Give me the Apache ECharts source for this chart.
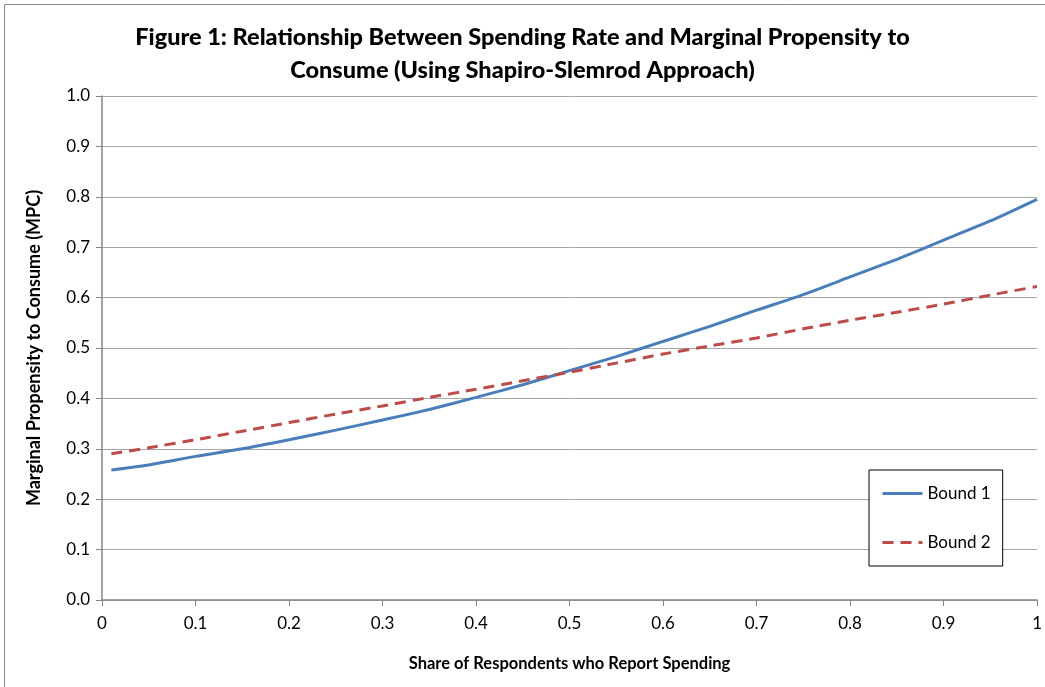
<!DOCTYPE html>
<html>
<head>
<meta charset="utf-8">
<script src="https://cdn.jsdelivr.net/npm/echarts@6/dist/echarts.min.js"></script>
<style>
    html, body { margin: 0; padding: 0; background: #fff; }
    #chart { width: 1045px; height: 687px; }
</style>
</head>
<body>
<div id="chart"></div>
<script>
    // share of respondents (x) and the two MPC bounds
    var shareX = [0.01, 0.05, 0.1, 0.15, 0.2, 0.25, 0.3, 0.35, 0.4, 0.45, 0.5,
                  0.55, 0.6, 0.65, 0.7, 0.75, 0.8, 0.85, 0.9, 0.95, 1.0];
    var bound1 = [0.258, 0.268, 0.285, 0.300, 0.318, 0.337, 0.357, 0.378, 0.402, 0.427, 0.455,
                  0.483, 0.513, 0.543, 0.575, 0.606, 0.641, 0.676, 0.714, 0.752, 0.795];
    var bound2 = [0.290, 0.302, 0.318, 0.335, 0.352, 0.369, 0.385, 0.402, 0.418, 0.435, 0.452,
                  0.470, 0.488, 0.504, 0.520, 0.538, 0.555, 0.571, 0.587, 0.605, 0.622];
    var seriesNames = ['Bound 1', 'Bound 2'];

    var font = 'Lato, "Open Sans", sans-serif';

    function pairs(ys) {
        return shareX.map(function (x, i) { return [x, ys[i]]; });
    }

    var chart = echarts.init(document.getElementById('chart'));
    chart.setOption({
        animation: false,
        graphic: [{
            type: 'rect',
            shape: { x: 4.5, y: 4.5, width: 1045, height: 690 },
            style: { fill: 'none', stroke: '#888', lineWidth: 1 },
            silent: true
        }],
        title: {
            text: 'Figure 1: Relationship Between Spending Rate and Marginal Propensity to\nConsume (Using Shapiro-Slemrod Approach)',
            left: 'center',
            top: 16,
            textStyle: {
                fontFamily: font,
                fontWeight: 900,
                fontSize: 23.5,
                lineHeight: 33,
                color: '#000'
            }
        },
        legend: {
            orient: 'vertical',
            left: 869,
            top: 470,
            width: 134,
            padding: [15, 12, 15, 12],
            itemGap: 32,
            itemWidth: 40,
            itemHeight: 20,
            borderColor: '#000',
            borderWidth: 1,
            backgroundColor: '#fff',
            data: seriesNames,
            itemStyle: { opacity: 0 },
            lineStyle: { width: 3 },
            textStyle: { fontFamily: font, fontSize: 17, color: '#000' }
        },
        grid: {
            left: 102,
            right: 5,
            top: 96,
            bottom: 87
        },
        xAxis: {
            type: 'value',
            min: 0,
            max: 1,
            interval: 0.1,
            name: 'Share of Respondents who Report Spending',
            nameLocation: 'middle',
            nameGap: 55,
            nameTextStyle: { fontFamily: font, fontWeight: 'bold', fontSize: 16.5, color: '#000' },
            axisLine: { lineStyle: { color: '#868686', width: 1.5 } },
            axisTick: { show: true, length: 6, lineStyle: { color: '#868686' } },
            axisLabel: {
                fontFamily: font, fontSize: 17, color: '#000', margin: 15,
                formatter: function (v) { return String(Math.round(v * 10) / 10); }
            },
            splitLine: { show: false }
        },
        yAxis: {
            type: 'value',
            min: 0,
            max: 1,
            interval: 0.1,
            name: 'Marginal Propensity to Consume (MPC)',
            nameLocation: 'middle',
            nameGap: 59,
            nameTextStyle: { fontFamily: font, fontWeight: 'bold', fontSize: 18, color: '#000' },
            axisLine: { show: true, lineStyle: { color: '#868686', width: 1.5 } },
            axisTick: { show: true, length: 6, lineStyle: { color: '#868686' } },
            axisLabel: {
                fontFamily: font, fontSize: 17, color: '#000', margin: 12,
                formatter: function (v) { return v.toFixed(1); }
            },
            splitLine: { lineStyle: { color: '#a6a6a6', width: 1 } }
        },
        series: [
            {
                name: seriesNames[0],
                type: 'line',
                data: pairs(bound1),
                showSymbol: false,
                symbol: 'none',
                smooth: 0.2,
                lineStyle: { color: '#4a7ebb', width: 3 },
                itemStyle: { color: '#4a7ebb' }
            },
            {
                name: seriesNames[1],
                type: 'line',
                data: pairs(bound2),
                showSymbol: false,
                symbol: 'none',
                smooth: 0.2,
                lineStyle: { color: '#be4b48', width: 3, type: [11, 7] },
                itemStyle: { color: '#be4b48' }
            }
        ]
    });
</script>
</body>
</html>
